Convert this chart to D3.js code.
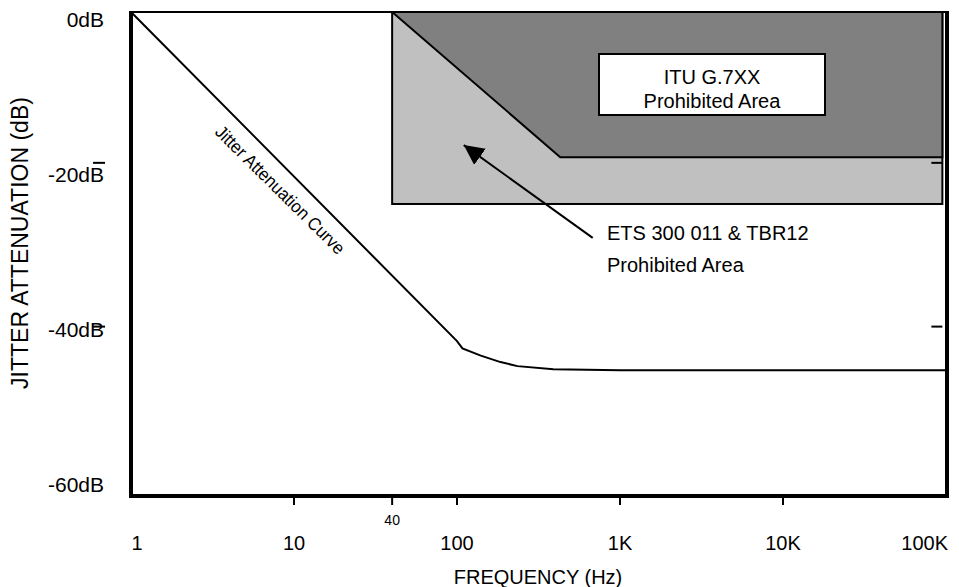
<!DOCTYPE html>
<html>
<head>
<meta charset="utf-8">
<script src="https://cdn.jsdelivr.net/npm/d3@7"></script>
<style>
  body { margin: 0; background: #fff; }
  text { font-family: "Liberation Sans", Arial, sans-serif; fill: #000; }
</style>
</head>
<body>
<svg id="chart" width="959" height="587"></svg>
<script>
// frequency decades on the x axis
var freqTicks = [1, 10, 100, 1000, 10000, 100000];
var freqLabels = ["1", "10", "100", "1K", "10K", "100K"];
var cornerTick = 40;

// y axis labels
var dbTicks = [0, -20, -40, -60];
var dbLabels = ["0dB", "-20dB", "-40dB", "-60dB"];
// the small dashes, as drawn in the picture
var dashValues = [-18.7, -39];

// jitter attenuation curve [Hz, dB]
var curveFreq = [1, 100, 108, 140, 185, 235, 390, 1000, 100000];
var curveDb = [0, -40.8, -41.7, -42.6, -43.4, -43.9, -44.3, -44.4, -44.4];

// ETS 300 011 & TBR12 mask (light) and ITU G.7XX mask (dark)
var etsFreq = [40, 95000];
var etsDb = [0, -23.8];
var ituFreq = [40, 430, 95000, 95000];
var ituDb = [0, -18, -18, 0];

// arrow from the ETS label to the light area [Hz, dB]
var arrowFreq = [680, 110];
var arrowDb = [-28, -16.5];

var svg = d3.select("#chart");

var x = d3.scaleLog().domain([1, 100000]).range([131, 946]);
var y = d3.scaleLinear().domain([0, -60]).range([12, 496]);
// labels sit a bit inside the ends of the axis
var yLab = d3.scaleLinear().domain([0, -60]).range([19, 484]);

// light area
svg.append("rect")
    .attr("x", x(etsFreq[0]))
    .attr("y", y(etsDb[0]))
    .attr("width", x(etsFreq[1]) - x(etsFreq[0]))
    .attr("height", y(etsDb[1]) - y(etsDb[0]))
    .attr("fill", "#c0c0c0")
    .attr("stroke", "#000")
    .attr("stroke-width", 2);

// dark area
var ituPts = ituFreq.map(function (f, i) { return [x(f), y(ituDb[i])]; });
svg.append("polygon")
    .attr("points", ituPts.map(function (p) { return p.join(","); }).join(" "))
    .attr("fill", "#808080")
    .attr("stroke", "#000")
    .attr("stroke-width", 2)
    .attr("stroke-linejoin", "miter");

// white label box
svg.append("rect")
    .attr("x", 599).attr("y", 54)
    .attr("width", 226).attr("height", 61)
    .attr("fill", "#fff")
    .attr("stroke", "#000")
    .attr("stroke-width", 2);
svg.append("text").attr("x", 712).attr("y", 84)
    .attr("text-anchor", "middle").style("font-size", "20px").text("ITU G.7XX");
svg.append("text").attr("x", 712).attr("y", 108)
    .attr("text-anchor", "middle").style("font-size", "20px").text("Prohibited Area");

// ETS label
svg.append("text").attr("x", 607).attr("y", 240)
    .style("font-size", "20px").text("ETS 300 011 & TBR12");
svg.append("text").attr("x", 607).attr("y", 272)
    .style("font-size", "20px").text("Prohibited Area");

// arrow
svg.append("defs").append("marker")
    .attr("id", "head")
    .attr("viewBox", "0 0 20 20")
    .attr("refX", 20).attr("refY", 10)
    .attr("markerWidth", 20).attr("markerHeight", 20)
    .attr("markerUnits", "userSpaceOnUse")
    .attr("orient", "auto")
  .append("path")
    .attr("d", "M0,0 L20,10 L0,20 Z")
    .attr("fill", "#000");

svg.append("line")
    .attr("x1", x(arrowFreq[0])).attr("y1", y(arrowDb[0]))
    .attr("x2", x(arrowFreq[1])).attr("y2", y(arrowDb[1]))
    .attr("stroke", "#000")
    .attr("stroke-width", 2)
    .attr("marker-end", "url(#head)");

// attenuation curve
var line = d3.line()
    .x(function (d) { return x(d[0]); })
    .y(function (d) { return y(d[1]); });
svg.append("path")
    .datum(curveFreq.map(function (f, i) { return [f, curveDb[i]]; }))
    .attr("d", line)
    .attr("fill", "none")
    .attr("stroke", "#000")
    .attr("stroke-width", 2);

// curve label, rotated along the slope
var ang = Math.atan2(y(-20) - y(0), x(10) - x(1)) * 180 / Math.PI;
var lx = x(10), ly = y(-20.3);
var off = 20;
var rad = ang * Math.PI / 180;
svg.append("text")
    .attr("transform", "translate(" + (lx - off * Math.sin(rad)) + "," + (ly + off * Math.cos(rad)) + ") rotate(" + ang + ")")
    .attr("text-anchor", "middle")
    .attr("dominant-baseline", "central")
    .attr("textLength", 174)
    .attr("lengthAdjust", "spacingAndGlyphs")
    .style("font-size", "18px")
    .text("Jitter Attenuation Curve");

// frame
svg.append("line").attr("x1", x(1)).attr("x2", 949).attr("y1", y(0)).attr("y2", y(0))
    .attr("stroke", "#000").attr("stroke-width", 2);
svg.append("line").attr("x1", 947).attr("x2", 947).attr("y1", y(0)).attr("y2", 498)
    .attr("stroke", "#000").attr("stroke-width", 4);
svg.append("line").attr("x1", x(1)).attr("x2", x(1)).attr("y1", y(0) - 1).attr("y2", 498)
    .attr("stroke", "#000").attr("stroke-width", 4);
svg.append("line").attr("x1", x(1) - 2).attr("x2", 949).attr("y1", y(-60)).attr("y2", y(-60))
    .attr("stroke", "#000").attr("stroke-width", 4);

// bottom ticks
svg.selectAll(".xtick")
    .data(freqTicks.slice(1, -1).concat([cornerTick]))
    .enter().append("line")
    .attr("class", "xtick")
    .attr("x1", function (d) { return x(d); })
    .attr("x2", function (d) { return x(d); })
    .attr("y1", y(-60))
    .attr("y2", y(-60) + 9)
    .attr("stroke", "#000")
    .attr("stroke-width", 2);

var last = freqTicks.length - 1;
svg.selectAll(".xlab")
    .data(freqTicks)
    .enter().append("text")
    .attr("class", "xlab")
    .attr("x", function (d, i) { return i === 0 ? x(d) + 6 : (i === last ? x(d) + 2 : x(d)); })
    .attr("y", 550)
    .attr("text-anchor", function (d, i) { return i === last ? "end" : "middle"; })
    .style("font-size", "20px")
    .text(function (d, i) { return freqLabels[i]; });

svg.append("text")
    .attr("x", x(cornerTick))
    .attr("y", 525)
    .attr("text-anchor", "middle")
    .style("font-size", "14px")
    .text(cornerTick);

// y labels
svg.selectAll(".ylab")
    .data(dbTicks)
    .enter().append("text")
    .attr("class", "ylab")
    .attr("x", 104)
    .attr("y", function (d) { return yLab(d); })
    .attr("text-anchor", "end")
    .attr("dominant-baseline", "central")
    .style("font-size", "21px")
    .text(function (d, i) { return dbLabels[i]; });

// dashes next to the y labels and on the right edge
svg.selectAll(".ldash")
    .data(dashValues)
    .enter().append("line")
    .attr("class", "ldash")
    .attr("x1", 93).attr("x2", 105)
    .attr("y1", function (d) { return y(d); })
    .attr("y2", function (d) { return y(d); })
    .attr("stroke", "#000").attr("stroke-width", 2);

svg.selectAll(".rdash")
    .data(dashValues)
    .enter().append("line")
    .attr("class", "rdash")
    .attr("x1", x(etsFreq[1]) - 11).attr("x2", x(etsFreq[1]))
    .attr("y1", function (d) { return y(d); })
    .attr("y2", function (d) { return y(d); })
    .attr("stroke", "#000").attr("stroke-width", 2);

// axis titles
svg.append("text")
    .attr("x", 538).attr("y", 584)
    .attr("text-anchor", "middle")
    .style("font-size", "20px")
    .text("FREQUENCY (Hz)");

svg.append("text")
    .attr("transform", "translate(28,243) rotate(-90)")
    .attr("text-anchor", "middle")
    .style("font-size", "23px")
    .text("JITTER ATTENUATION (dB)");
</script>
</body>
</html>
